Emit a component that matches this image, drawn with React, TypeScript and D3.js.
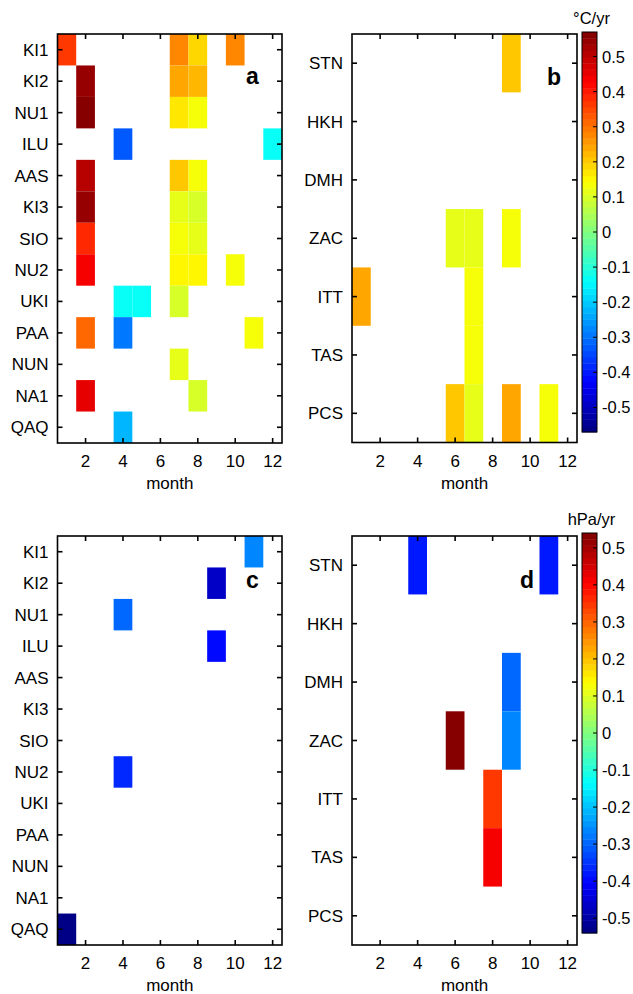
import React from "react";
import * as d3 from "d3";

// stations for left and right columns
const stationsA = ["KI1", "KI2", "NU1", "ILU", "AAS", "KI3", "SIO", "NU2", "UKI", "PAA", "NUN", "NA1", "QAQ"];
const stationsB = ["STN", "HKH", "DMH", "ZAC", "ITT", "TAS", "PCS"];
const monthTicks = [2, 4, 6, 8, 10, 12];

// significant trends: [station, month, value]
const tempA: [string, number, number][] = [
  ["KI1", 1, 0.37], ["KI1", 7, 0.27], ["KI1", 8, 0.18], ["KI1", 10, 0.27],
  ["KI2", 2, 0.54], ["KI2", 7, 0.24], ["KI2", 8, 0.23],
  ["NU1", 2, 0.6], ["NU1", 7, 0.17], ["NU1", 8, 0.13],
  ["ILU", 4, -0.33], ["ILU", 12, -0.14],
  ["AAS", 2, 0.5], ["AAS", 7, 0.2], ["AAS", 8, 0.13],
  ["KI3", 2, 0.54], ["KI3", 7, 0.115], ["KI3", 8, 0.1],
  ["SIO", 2, 0.39], ["SIO", 7, 0.135], ["SIO", 8, 0.11],
  ["NU2", 2, 0.43], ["NU2", 7, 0.15], ["NU2", 8, 0.16], ["NU2", 10, 0.135],
  ["UKI", 4, -0.13], ["UKI", 5, -0.125], ["UKI", 7, 0.09],
  ["PAA", 2, 0.31], ["PAA", 4, -0.3], ["PAA", 11, 0.14],
  ["NUN", 7, 0.11],
  ["NA1", 2, 0.46], ["NA1", 8, 0.1],
  ["QAQ", 4, -0.22],
];
const tempB: [string, number, number][] = [
  ["STN", 9, 0.2],
  ["ZAC", 6, 0.11], ["ZAC", 7, 0.11], ["ZAC", 9, 0.14],
  ["ITT", 1, 0.24], ["ITT", 7, 0.13],
  ["TAS", 7, 0.13],
  ["PCS", 6, 0.2], ["PCS", 7, 0.11], ["PCS", 9, 0.24], ["PCS", 11, 0.14],
];
const presC: [string, number, number][] = [
  ["KI1", 11, -0.26], ["KI2", 9, -0.46], ["NU1", 4, -0.3],
  ["ILU", 9, -0.4], ["NU2", 4, -0.37], ["QAQ", 1, -0.56],
];
const presD: [string, number, number][] = [
  ["STN", 4, -0.38], ["STN", 11, -0.38],
  ["DMH", 9, -0.3], ["ZAC", 9, -0.27], ["ZAC", 6, 0.56],
  ["ITT", 8, 0.35], ["TAS", 8, 0.41],
];
const cbTicks = [0.5, 0.4, 0.3, 0.2, 0.1, 0, -0.1, -0.2, -0.3, -0.4, -0.5];

const FONT = "Liberation Sans, Arial, Helvetica, sans-serif";
const NLEV = 64;
const FS = 17;

// matlab style jet
function jet(t: number) {
  const c = (x: number) => Math.max(0, Math.min(1, x));
  const r = c(1.5 - Math.abs(4 * t - 3));
  const g = c(1.5 - Math.abs(4 * t - 2));
  const b = c(1.5 - Math.abs(4 * t - 1));
  return d3.rgb(r * 255, g * 255, b * 255).formatHex();
}
function colorFor(v: number, lim: number) {
  let t = (v + lim) / (2 * lim);
  let k = Math.floor(t * NLEV);
  k = Math.max(0, Math.min(NLEV - 1, k));
  return jet((k + 0.5) / NLEV);
}

type Panel = {
  x0: number; x1: number; y0: number; y1: number;
  stations: string[]; cells: [string, number, number][]; lim: number;
  label: string; lx: number; ly: number;
};

function HeatPanel({ p }: { p: Panel }) {
  const x = d3.scaleLinear().domain([0.5, 12.5]).range([p.x0, p.x1]);
  const y = d3.scaleBand().domain(p.stations).range([p.y0, p.y1]);
  const bw = x(1) - x(0);
  const tl = 5;
  return (
    <g>
      {p.cells.map(([s, m, v], i) => (
        <rect key={i} x={x(m - 0.5)} y={y(s)} width={bw} height={y.bandwidth()}
          fill={colorFor(v, p.lim)} />
      ))}
      <rect x={p.x0} y={p.y0} width={p.x1 - p.x0} height={p.y1 - p.y0}
        fill="none" stroke="#000" strokeWidth={1.6} />
      {monthTicks.map((m) => (
        <g key={m}>
          <line x1={x(m)} x2={x(m)} y1={p.y1} y2={p.y1 - tl} stroke="#000" strokeWidth={1.6} />
          <line x1={x(m)} x2={x(m)} y1={p.y0} y2={p.y0 + tl} stroke="#000" strokeWidth={1.6} />
          <text x={x(m)} y={p.y1 + 24} textAnchor="middle" fontSize={FS}>{m}</text>
        </g>
      ))}
      {p.stations.map((s) => {
        const cy = (y(s) as number) + y.bandwidth() / 2;
        return (
          <g key={s}>
            <line x1={p.x0} x2={p.x0 + tl} y1={cy} y2={cy} stroke="#000" strokeWidth={1.6} />
            <line x1={p.x1} x2={p.x1 - tl} y1={cy} y2={cy} stroke="#000" strokeWidth={1.6} />
            <text x={p.x0 - 9} y={cy + 6} textAnchor="end" fontSize={FS}>{s}</text>
          </g>
        );
      })}
      <text x={(p.x0 + p.x1) / 2} y={p.y1 + 46} textAnchor="middle" fontSize={FS}>month</text>
      <text x={p.lx} y={p.ly} fontSize={23} fontWeight="bold">{p.label}</text>
    </g>
  );
}

function ColorBar({ x0, y0, y1, lim, unit }: { x0: number; y0: number; y1: number; lim: number; unit: string }) {
  const w = 15;
  const ys = d3.scaleLinear().domain([-lim, lim]).range([y1, y0]);
  const levels = d3.range(NLEV);
  const h = (y1 - y0) / NLEV;
  return (
    <g>
      {levels.map((k) => (
        <rect key={k} x={x0} y={y1 - (k + 1) * h} width={w} height={h + 0.4}
          fill={jet((k + 0.5) / NLEV)} />
      ))}
      <rect x={x0} y={y0} width={w} height={y1 - y0} fill="none" stroke="#000" strokeWidth={1} />
      {cbTicks.map((t) => (
        <g key={t}>
          <line x1={x0 + w} x2={x0 + w - 4} y1={ys(t)} y2={ys(t)} stroke="#000" strokeWidth={1} />
          <text x={x0 + 20} y={ys(t) + 6} fontSize={16.5}>{t === 0 ? "0" : String(t)}</text>
        </g>
      ))}
      <text x={x0 + w / 2 + 2} y={y0 - 8} textAnchor="middle" fontSize={16.5}>{unit}</text>
    </g>
  );
}

export default function App() {
  const panels: Panel[] = [
    { x0: 57.5, x1: 282, y0: 34, y1: 443, stations: stationsA, cells: tempA, lim: 0.57, label: "a", lx: 246, ly: 84 },
    { x0: 352, x1: 577, y0: 34, y1: 442.5, stations: stationsB, cells: tempB, lim: 0.57, label: "b", lx: 547, ly: 85 },
    { x0: 57.5, x1: 282, y0: 536, y1: 945, stations: stationsA, cells: presC, lim: 0.54, label: "c", lx: 246, ly: 588 },
    { x0: 352, x1: 577, y0: 536, y1: 945, stations: stationsB, cells: presD, lim: 0.54, label: "d", lx: 520, ly: 588 },
  ];
  return (
    <svg width={633} height={994} style={{ position: "absolute", left: 0, top: 0, background: "#fff" }}
      fontFamily={FONT} fill="#000">
      {panels.map((p) => <HeatPanel key={p.label} p={p} />)}
      <ColorBar x0={582} y0={32} y1={432} lim={0.57} unit="°C/yr" />
      <ColorBar x0={582} y0={533} y1={933} lim={0.54} unit="hPa/yr" />
    </svg>
  );
}
